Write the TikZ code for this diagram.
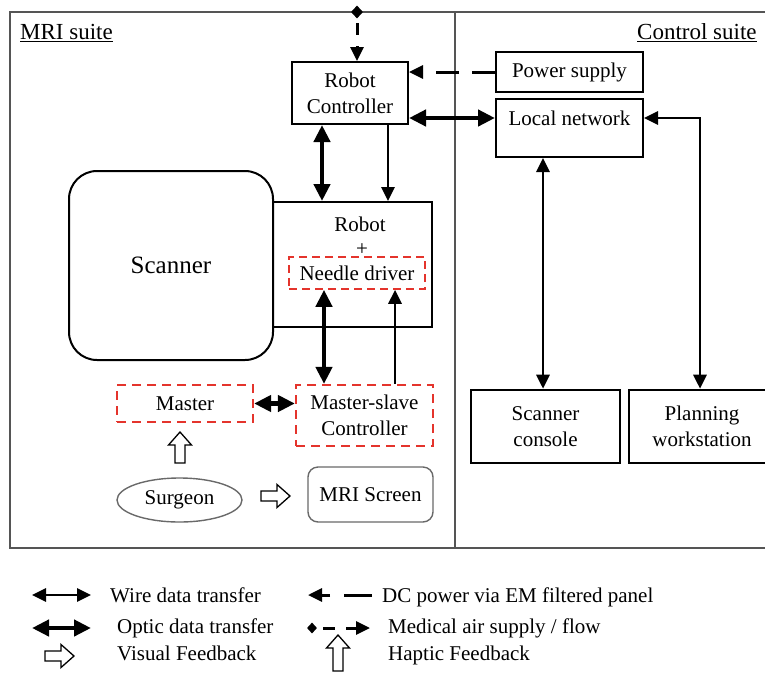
\documentclass[tikz,border=0pt]{standalone}
\usepackage{fontspec}
\setmainfont{Liberation Serif}
\usetikzlibrary{arrows.meta,shapes.geometric,calc}
\definecolor{framegray}{RGB}{85,85,85}
\definecolor{softgray}{RGB}{105,105,105}
\definecolor{dashred}{RGB}{228,52,44}
\tikzset{
  wtip/.tip={Triangle[length=14pt,width=13pt]},
  otip/.tip={Triangle[length=17pt,width=16pt]},
  txt/.style={font=\fontsize{21}{26}\selectfont, inner sep=0pt, align=center},
  bigtxt/.style={font=\fontsize{25}{30}\selectfont, inner sep=0pt},
  suitetxt/.style={font=\fontsize{23}{28}\selectfont, inner sep=0pt},
  legtxt/.style={font=\fontsize{21}{26}\selectfont, inner sep=0pt, anchor=west, text height=14pt, text depth=4pt},
  box/.style={draw, line width=2pt, inner sep=0pt, txt},
  thickbox/.style={draw, line width=2.6pt, inner sep=0pt, txt},
  redbox/.style={draw=dashred, line width=2.2pt, dash pattern=on 9pt off 6pt, inner sep=0pt, txt},
  softbox/.style={draw=softgray, line width=1.4pt, inner sep=0pt, txt},
  wire/.style={line width=2.8pt, wtip-wtip},
  wireone/.style={line width=2.8pt, -wtip},
  optic/.style={line width=4.5pt, otip-otip},
  power/.style={line width=3pt, dash pattern=on 23pt off 13pt, -wtip},
  air/.style={line width=3pt, dash pattern=on 12pt off 11pt, dash phase=12pt, -wtip},
  airsource/.style={diamond, fill, inner sep=0pt, minimum width=12pt, minimum height=13pt},
  hollowlen/.store in=\hollowlen, hollowlen=29,
  pics/hollow/.style={code={
    \draw[line width=1.3pt, line join=miter]
      (0,-5) -- ({\hollowlen-13},-5) -- ({\hollowlen-13},-11.5) -- (\hollowlen,0)
      -- ({\hollowlen-13},11.5) -- ({\hollowlen-13},5) -- (0,5) -- cycle;}}
}
\begin{document}
\begin{tikzpicture}[x=1pt,y=-1pt]
\useasboundingbox (0,0) rectangle (765,673);
\clip (0,0) rectangle (765,673);

% room outlines
\draw[framegray, line width=1.5pt] (770,12) -- (10,12) -- (10,548) -- (770,548);
\draw[framegray, line width=1.5pt] (455,12) -- (455,548);
\node[suitetxt, anchor=west] (mrisuite) at (20,33) {\underline{MRI suite}};
\node[suitetxt, anchor=west] (ctlsuite) at (637,33) {\underline{Control suite}};

% MRI suite equipment
\node[draw, line width=2pt, rounded corners=28pt, minimum width=204pt, minimum height=189pt, bigtxt] (scanner) at (171,265.5) {Scanner};
\node[box, minimum width=159pt, minimum height=125pt] (robot) at (352.5,264.5) {};
\node[txt] (robottxt) at (360,224) {Robot};
\node[txt] (plus) at (362,250) {+};
\node[redbox, line width=1.6pt, dash pattern=on 8pt off 5pt, minimum width=136pt, minimum height=32pt] (needle) at (357,273) {Needle driver};
\node[box, minimum width=116pt, minimum height=62pt] (rc) at (350,93) {Robot\\Controller};
\node[redbox, minimum width=136pt, minimum height=37pt] (master) at (185,403.5) {Master};
\node[redbox, minimum width=137pt, minimum height=61pt] (ms) at (364.5,415.5) {Master-slave\\Controller};
\node[draw=softgray, line width=1.4pt, ellipse, minimum width=125pt, minimum height=44pt, inner sep=0pt, txt] (surgeon) at (179.5,500) {Surgeon};
\node[softbox, rounded corners=10pt, minimum width=125pt, minimum height=55pt] (screen) at (370.5,494.5) {MRI Screen};
\node[airsource] (airsrc) at (357,12) {};

% control suite equipment
\node[box, minimum width=147pt, minimum height=40pt] (ps) at (569.5,72) {Power supply};
\node[box, minimum width=147pt, minimum height=58pt] (ln) at (569.5,128) {};
\node[txt] (lntxt) at (569.5,118) {Local network};
\node[thickbox, minimum width=149pt, minimum height=73pt] (sc) at (545.5,426.5) {Scanner\\console};
\node[thickbox, minimum width=146pt, minimum height=73pt] (pw) at (702,426.5) {Planning\\workstation};

% connections
\draw[air] (airsrc.center) -- (airsrc.center |- rc.north);
\draw[power] (ps.west) -- (ps.west -| rc.east);
\draw[optic] ([yshift=-25pt]rc.east) -- ([yshift=-25pt]rc.east -| ln.west);
\draw[optic] ([xshift=-28pt]rc.south) -- ([xshift=-28pt]rc.south |- robot.north);
\draw[wireone] ([xshift=38pt]rc.south) -- ([xshift=38pt]rc.south |- robot.north);
\draw[optic] ([xshift=-33pt]needle.south) -- ([xshift=-33pt]needle.south |- ms.north);
\draw[wireone] ([xshift=30.5pt]ms.north) -- ([xshift=30.5pt]ms.north |- needle.south);
\draw[optic] (master.east) -- (master.east -| ms.west);
\draw[wire] ([xshift=-26.5pt]ln.south) -- ([xshift=-26.5pt]ln.south |- sc.north);
\draw[wire] ([xshift=-2pt]pw.north) -- ([xshift=-2pt]pw.north |- lntxt) -- (ln.east |- lntxt);

% feedback arrows
\pic[rotate=90, hollowlen=31] at (180,463) {hollow};
\pic[hollowlen=29] at (261,496) {hollow};

% legend
\coordinate (wa) at (32,595); \coordinate (wb) at (91,595);
\coordinate (oa) at (32,628); \coordinate (ob) at (91,628);
\coordinate (pa) at (372,595); \coordinate (pb) at (308,595);
\node[airsource, minimum width=10pt, minimum height=11pt] (ma) at (312,628) {};
\coordinate (mb) at (370,628);
\draw[line width=2.8pt, wtip-wtip] (wa) -- (wb);
\draw[line width=4.5pt, otip-otip] (oa) -- (ob);
\draw[line width=3pt, dash pattern=on 28pt off 14pt, -wtip] (pa) -- (pb);
\draw[air] (ma.center) -- (mb);
\pic[hollowlen=29] at (45,656) {hollow};
\pic[rotate=90, hollowlen=36] at (338,671) {hollow};
\node[legtxt] (lw) at (110,597) {Wire data transfer};
\node[legtxt] (lo) at (117,628) {Optic data transfer};
\node[legtxt] (lv) at (117,655) {Visual Feedback};
\node[legtxt] (lp) at (382,597) {DC power via EM filtered panel};
\node[legtxt] (lm) at (388,628) {Medical air supply / flow};
\node[legtxt] (lh) at (388,655) {Haptic Feedback};
\end{tikzpicture}
\end{document}
